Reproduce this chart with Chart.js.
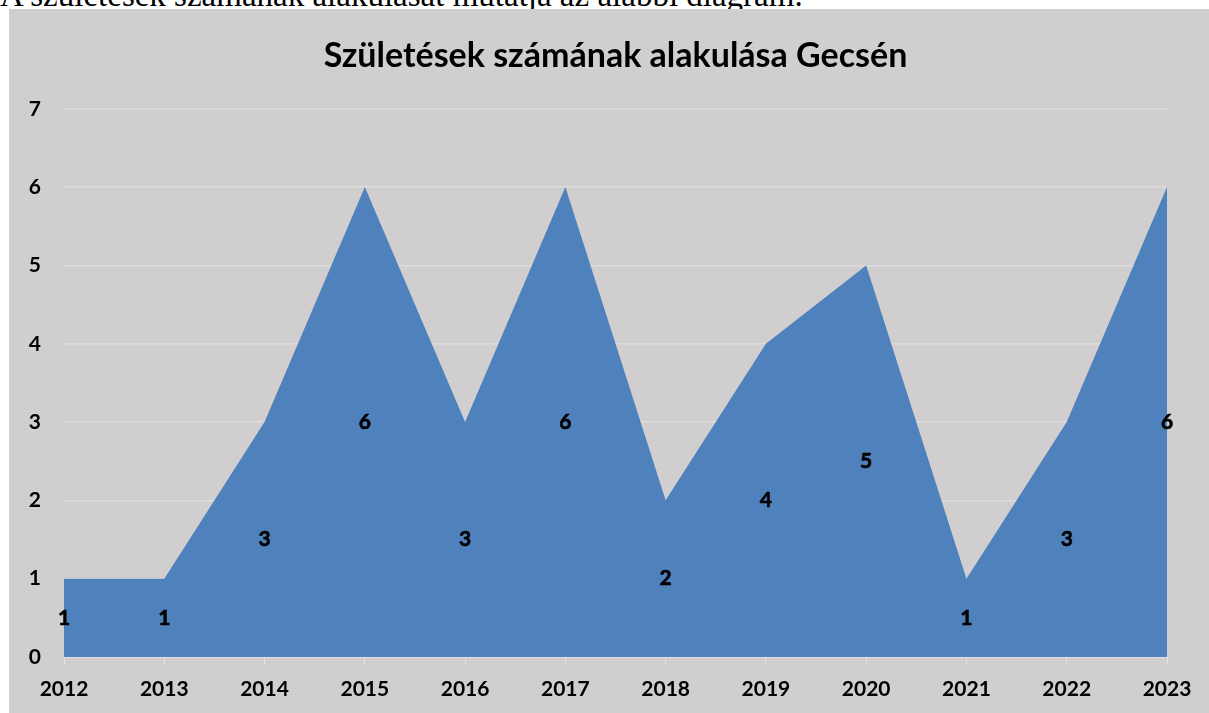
<!DOCTYPE html>
<html>
<head>
<meta charset="utf-8">
<script src="https://cdn.jsdelivr.net/npm/chart.js@4/dist/chart.umd.min.js"></script>
<style>
  html, body { margin: 0; padding: 0; background: #ffffff; width: 1209px; height: 713px; overflow: hidden; }
  #intro { position: absolute; left: 0; top: -21px; font-family: "Liberation Serif", "Times New Roman", serif; font-size: 33px; line-height: 33px; white-space: nowrap; color: #000; }
  #box { position: absolute; left: 9px; top: 9px; width: 1200px; height: 704px; background: #d0cece; }
</style>
</head>
<body>
<div id="intro">A születések számának alakulását mutatja az alábbi diagram.</div>
<div id="box"><canvas id="c" width="1200" height="704"></canvas></div>
<script>
const categories = ['2012','2013','2014','2015','2016','2017','2018','2019','2020','2021','2022','2023'];
const births = [1, 1, 3, 6, 3, 6, 2, 4, 5, 1, 3, 6];
const yTicks = [0, 1, 2, 3, 4, 5, 6, 7];

const FONT = 'Lato, "Open Sans", sans-serif';

const midLabels = {
  id: 'midLabels',
  afterDatasetsDraw(chart) {
    const ctx = chart.ctx;
    const xs = chart.scales.x, ys = chart.scales.y;
    ctx.save();
    ctx.font = 'bold 21px ' + FONT;
    ctx.fillStyle = '#000000';
    ctx.strokeStyle = '#000000';
    ctx.lineWidth = 0.6;
    ctx.textAlign = 'center';
    ctx.textBaseline = 'middle';
    births.forEach((v, i) => {
      const x = xs.getPixelForValue(i), y = ys.getPixelForValue(v / 2);
      ctx.fillText(String(v), x, y);
      ctx.strokeText(String(v), x, y);
    });
    ctx.restore();
  }
};

// center the title over the plot area rather than the whole canvas
const titleOverPlot = {
  id: 'titleOverPlot',
  afterLayout(chart) {
    const t = chart.titleBlock;
    if (t) { t.left = chart.chartArea.left; t.right = chart.chartArea.right; }
  }
};

new Chart(document.getElementById('c'), {
  type: 'line',
  data: {
    labels: categories,
    datasets: [{
      data: births,
      fill: 'origin',
      backgroundColor: '#4f81bd',
      borderColor: '#4f81bd',
      borderWidth: 0,
      pointRadius: 0,
      tension: 0
    }]
  },
  options: {
    responsive: false,
    animation: false,
    layout: { padding: { left: 0, right: 42, top: 0, bottom: 0 } },
    plugins: {
      legend: { display: false },
      tooltip: { enabled: false },
      title: {
        display: true,
        text: 'Születések számának alakulása Gecsén',
        color: '#000000',
        font: { family: FONT, size: 34, weight: 'bold' },
        padding: { top: 27, bottom: 32 }
      }
    },
    scales: {
      x: {
        type: 'category',
        offset: false,
        grid: { display: true, drawOnChartArea: false, drawTicks: true, tickLength: 7, color: '#e2e0e0', lineWidth: 1 },
        border: { display: true, color: '#e2e0e0', width: 1 },
        ticks: { color: '#000000', font: { family: FONT, size: 21, weight: 'bold' }, padding: 13, maxRotation: 0, autoSkip: false },
        afterFit(scale) { scale.height = 56; }
      },
      y: {
        min: 0, max: 7,
        afterBuildTicks(scale) { scale.ticks = yTicks.map(v => ({ value: v })); },
        grid: { color: '#dedcdc', lineWidth: 1.5, drawTicks: false },
        border: { display: false },
        ticks: { color: '#000000', font: { family: FONT, size: 21, weight: 'bold' }, padding: 23 },
        afterFit(scale) { scale.width = 55; }
      }
    }
  },
  plugins: [midLabels, titleOverPlot]
});
</script>
</body>
</html>
